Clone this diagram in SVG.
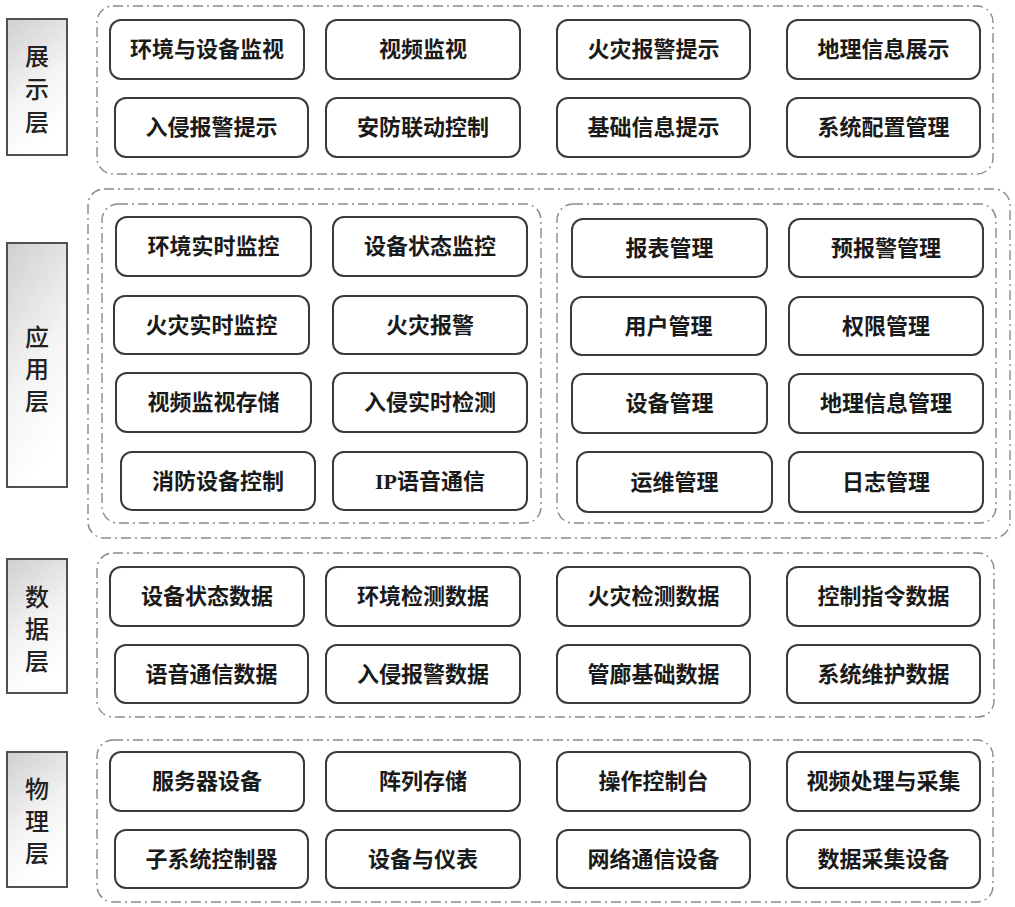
<svg xmlns="http://www.w3.org/2000/svg" width="1015" height="907" viewBox="0 0 1015 907">
<defs>
<linearGradient id="lg" x1="0" y1="0" x2="0.35" y2="1">
<stop offset="0" stop-color="#cfcfcf"/>
<stop offset="0.6" stop-color="#f4f4f4"/>
<stop offset="1" stop-color="#ffffff"/>
</linearGradient>
<style>
.grp{fill:none;stroke:#8a8a8a;stroke-width:1.4;stroke-dasharray:10 4 2 4}
.bx{fill:#fff;stroke:#3a3a3a;stroke-width:2}
.t{font-family:"Liberation Serif","Noto Sans CJK SC",serif;font-size:22px;font-weight:700;fill:#1a1a1a;text-anchor:middle;dominant-baseline:central}
.lay{fill:url(#lg);stroke:#505050;stroke-width:2}
.lt{font-family:"Noto Sans CJK SC",sans-serif;font-size:24px;font-weight:500;fill:#222;text-anchor:middle;dominant-baseline:central}
</style>
</defs>
<rect width="1015" height="907" fill="#fff"/>

<g id="containers">
<rect class="grp" x="97" y="6" width="896" height="168" rx="16"/>
<rect class="grp" x="88" y="189" width="922" height="349" rx="16"/>
<rect class="grp" x="102" y="204" width="439" height="319" rx="16"/>
<rect class="grp" x="557" y="204" width="439" height="319" rx="16"/>
<rect class="grp" x="97" y="553" width="897" height="164" rx="16"/>
<rect class="grp" x="97" y="740" width="896" height="162" rx="16"/>
</g>

<g id="layer-show"><rect class="lay" x="7" y="19" width="60" height="136"/>
<text class="lt" x="37" y="54">展</text><text class="lt" x="37" y="87">示</text><text class="lt" x="37" y="120">层</text></g>
<g id="layer-app"><rect class="lay" x="7" y="243" width="60" height="244"/>
<text class="lt" x="37" y="335">应</text><text class="lt" x="37" y="367">用</text><text class="lt" x="37" y="399">层</text></g>
<g id="layer-data"><rect class="lay" x="7" y="559" width="60" height="134"/>
<text class="lt" x="37" y="595">数</text><text class="lt" x="37" y="627">据</text><text class="lt" x="37" y="659">层</text></g>
<g id="layer-phys"><rect class="lay" x="7" y="752" width="60" height="135"/>
<text class="lt" x="37" y="787">物</text><text class="lt" x="37" y="819">理</text><text class="lt" x="37" y="851">层</text></g>

<!-- 展示层 -->
<g id="n1"><rect class="bx" x="110" y="20" width="194" height="59" rx="11"/><text class="t" x="207" y="49.5">环境与设备监视</text></g>
<g id="n2"><rect class="bx" x="326" y="20" width="194" height="59" rx="11"/><text class="t" x="423" y="49.5">视频监视</text></g>
<g id="n3"><rect class="bx" x="557" y="20" width="193" height="59" rx="11"/><text class="t" x="653.5" y="49.5">火灾报警提示</text></g>
<g id="n4"><rect class="bx" x="787" y="20" width="193" height="59" rx="11"/><text class="t" x="883.5" y="49.5">地理信息展示</text></g>
<g id="n5"><rect class="bx" x="115" y="98" width="193" height="59" rx="11"/><text class="t" x="211.5" y="127.5">入侵报警提示</text></g>
<g id="n6"><rect class="bx" x="326" y="98" width="194" height="59" rx="11"/><text class="t" x="423" y="127.5">安防联动控制</text></g>
<g id="n7"><rect class="bx" x="557" y="98" width="193" height="59" rx="11"/><text class="t" x="653.5" y="127.5">基础信息提示</text></g>
<g id="n8"><rect class="bx" x="787" y="98" width="193" height="59" rx="11"/><text class="t" x="883.5" y="127.5">系统配置管理</text></g>

<!-- 应用层 left -->
<g id="a1"><rect class="bx" x="116" y="217" width="195" height="59" rx="11"/><text class="t" x="213.5" y="246.5">环境实时监控</text></g>
<g id="a2"><rect class="bx" x="333" y="217" width="194" height="59" rx="11"/><text class="t" x="430" y="246.5">设备状态监控</text></g>
<g id="a3"><rect class="bx" x="114" y="296" width="195" height="58" rx="11"/><text class="t" x="211.5" y="325">火灾实时监控</text></g>
<g id="a4"><rect class="bx" x="333" y="296" width="194" height="58" rx="11"/><text class="t" x="430" y="325">火灾报警</text></g>
<g id="a5"><rect class="bx" x="116" y="373" width="195" height="59" rx="11"/><text class="t" x="213.5" y="402.5">视频监视存储</text></g>
<g id="a6"><rect class="bx" x="333" y="373" width="194" height="59" rx="11"/><text class="t" x="430" y="402.5">入侵实时检测</text></g>
<g id="a7"><rect class="bx" x="121" y="452" width="194" height="58" rx="11"/><text class="t" x="218" y="481">消防设备控制</text></g>
<g id="a8"><rect class="bx" x="333" y="452" width="194" height="58" rx="11"/><text class="t" x="430" y="481">IP语音通信</text></g>

<!-- 应用层 right -->
<g id="b1"><rect class="bx" x="572" y="219" width="195" height="58" rx="11"/><text class="t" x="669.5" y="248">报表管理</text></g>
<g id="b2"><rect class="bx" x="789" y="219" width="194" height="58" rx="11"/><text class="t" x="886" y="248">预报警管理</text></g>
<g id="b3"><rect class="bx" x="571" y="297" width="195" height="58" rx="11"/><text class="t" x="668.5" y="326">用户管理</text></g>
<g id="b4"><rect class="bx" x="789" y="297" width="194" height="58" rx="11"/><text class="t" x="886" y="326">权限管理</text></g>
<g id="b5"><rect class="bx" x="572" y="374" width="195" height="59" rx="11"/><text class="t" x="669.5" y="403.5">设备管理</text></g>
<g id="b6"><rect class="bx" x="789" y="374" width="194" height="59" rx="11"/><text class="t" x="886" y="403.5">地理信息管理</text></g>
<g id="b7"><rect class="bx" x="577" y="452" width="195" height="60" rx="11"/><text class="t" x="674.5" y="482">运维管理</text></g>
<g id="b8"><rect class="bx" x="789" y="452" width="194" height="60" rx="11"/><text class="t" x="886" y="482">日志管理</text></g>

<!-- 数据层 -->
<g id="d1"><rect class="bx" x="110" y="567" width="194" height="59" rx="11"/><text class="t" x="207" y="596.5">设备状态数据</text></g>
<g id="d2"><rect class="bx" x="326" y="567" width="194" height="59" rx="11"/><text class="t" x="423" y="596.5">环境检测数据</text></g>
<g id="d3"><rect class="bx" x="557" y="567" width="193" height="59" rx="11"/><text class="t" x="653.5" y="596.5">火灾检测数据</text></g>
<g id="d4"><rect class="bx" x="787" y="567" width="193" height="59" rx="11"/><text class="t" x="883.5" y="596.5">控制指令数据</text></g>
<g id="d5"><rect class="bx" x="115" y="645" width="193" height="58" rx="11"/><text class="t" x="211.5" y="674">语音通信数据</text></g>
<g id="d6"><rect class="bx" x="326" y="645" width="194" height="58" rx="11"/><text class="t" x="423" y="674">入侵报警数据</text></g>
<g id="d7"><rect class="bx" x="557" y="645" width="193" height="58" rx="11"/><text class="t" x="653.5" y="674">管廊基础数据</text></g>
<g id="d8"><rect class="bx" x="787" y="645" width="193" height="58" rx="11"/><text class="t" x="883.5" y="674">系统维护数据</text></g>

<!-- 物理层 -->
<g id="p1"><rect class="bx" x="110" y="752" width="194" height="59" rx="11"/><text class="t" x="207" y="781.5">服务器设备</text></g>
<g id="p2"><rect class="bx" x="326" y="752" width="194" height="59" rx="11"/><text class="t" x="423" y="781.5">阵列存储</text></g>
<g id="p3"><rect class="bx" x="557" y="752" width="193" height="59" rx="11"/><text class="t" x="653.5" y="781.5">操作控制台</text></g>
<g id="p4"><rect class="bx" x="787" y="752" width="193" height="59" rx="11"/><text class="t" x="883.5" y="781.5">视频处理与采集</text></g>
<g id="p5"><rect class="bx" x="115" y="830" width="193" height="58" rx="11"/><text class="t" x="211.5" y="859">子系统控制器</text></g>
<g id="p6"><rect class="bx" x="326" y="830" width="194" height="58" rx="11"/><text class="t" x="423" y="859">设备与仪表</text></g>
<g id="p7"><rect class="bx" x="557" y="830" width="193" height="58" rx="11"/><text class="t" x="653.5" y="859">网络通信设备</text></g>
<g id="p8"><rect class="bx" x="787" y="830" width="193" height="58" rx="11"/><text class="t" x="883.5" y="859">数据采集设备</text></g>

<g id="connectors"/>
</svg>
